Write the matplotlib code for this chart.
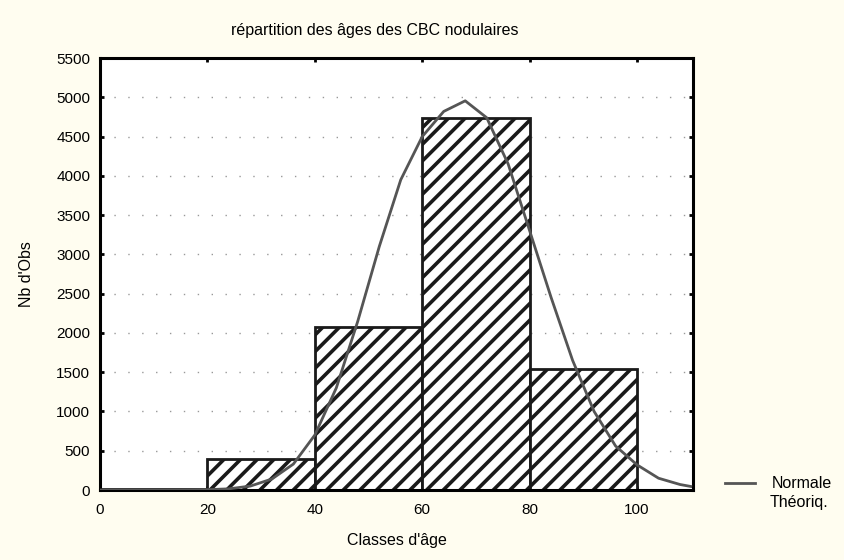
import matplotlib
matplotlib.use("Agg")
import matplotlib.pyplot as plt

# Data
bin_left = [0, 20, 40, 60, 80]
bin_width = 20
counts = [15, 390, 2080, 4740, 1540]

curve_x = [0, 4, 8, 12, 16, 20, 24, 28, 32, 36, 40, 44, 48, 52, 56, 60, 64, 68,
           72, 76, 80, 84, 88, 92, 96, 100, 104, 108, 110]
curve_y = [0, 0, 0, 0, 1, 4, 15, 50, 140, 330, 700, 1300, 2150, 3100, 3950, 4500,
           4820, 4955, 4740, 4150, 3300, 2450, 1650, 1000, 560, 320, 150, 70, 45]

xticks = [0, 20, 40, 60, 80, 100]
yticks = list(range(0, 5501, 500))

title = "répartition des âges des CBC nodulaires"
xlabel = "Classes d'âge"
ylabel = "Nb d'Obs"
legend_label = "Normale"
legend_label2 = "Théoriq."

plt.rcParams['font.family'] = ['Liberation Sans', 'DejaVu Sans']
plt.rcParams['hatch.linewidth'] = 2.6
plt.rcParams['hatch.color'] = '#1a1a1a'

bg = '#fffdf0'
fig = plt.figure(figsize=(8.44, 5.6), dpi=100, facecolor=bg)
ax = fig.add_axes([0.1185, 0.125, 0.7025, 0.7714])
ax.set_facecolor('white')

ax.bar(bin_left, counts, width=bin_width, align='edge', facecolor='white',
       edgecolor='#1a1a1a', linewidth=2, hatch='//', zorder=2)
line, = ax.plot(curve_x, curve_y, color='#555555', linewidth=2, zorder=3)

ax.set_xlim(0, 110.4)
ax.set_ylim(0, 5500)
ax.set_xticks(xticks)
ax.set_yticks(yticks)
ax.yaxis.grid(True, linestyle=(0, (1, 9)), color='#999999', linewidth=1, zorder=0)
ax.set_axisbelow(True)
ax.tick_params(direction='in', length=3, width=2, top=True, right=True,
               labelsize=11, colors='black')
ax.tick_params(axis='y', pad=7)
ax.tick_params(axis='x', pad=9)
for s in ax.spines.values():
    s.set_linewidth(2.2)
    s.set_color('black')

fig.text(375 / 844, 1 - 30 / 560, title, fontsize=11.5, ha='center', va='center')
ax.set_xlabel(xlabel, fontsize=11.5, labelpad=12)
ax.set_ylabel(ylabel, fontsize=11.5, labelpad=16)

fig.legend([line], [legend_label], loc='center left',
           bbox_to_anchor=(0.859, 1 - 484 / 560), frameon=False, fontsize=11.5,
           handlelength=1.9, handletextpad=1.0, borderaxespad=0, borderpad=0)
fig.text(770 / 844, 1 - 503 / 560, legend_label2, fontsize=11.5,
         ha='left', va='center')

fig.savefig('out.png', dpi=100, facecolor=bg)
